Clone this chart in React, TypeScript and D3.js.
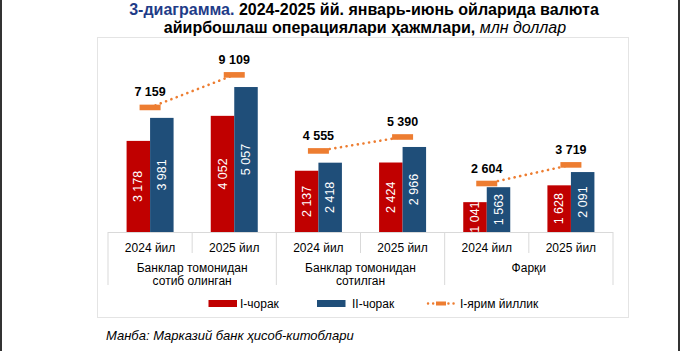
import React from 'react';
import * as d3 from 'd3';

const groups = [['Банклар томонидан', 'сотиб олинган'], ['Банклар томонидан', 'сотилган'], ['Фарқи']];
const years = ['2024 йил', '2025 йил'];
const q1 = [3178, 4052, 2137, 2424, 1041, 1628];
const q2 = [3981, 5057, 2418, 2966, 1563, 2091];
const half = [7159, 9109, 4555, 5390, 2604, 3719];
const legendLabels = ['I-чорак', 'II-чорак', 'I-ярим йиллик'];

const RED = '#C00000';
const BLUE = '#1F4E79';
const ORANGE = '#ED7D31';
const GRID = '#D9D9D9';
const FONT = '"Liberation Sans", Arial, sans-serif';

const fmt = (v: number) => d3.format(',')(v).replace(/,/g, ' ');

export default function App() {
  const W = 680, H = 351;
  const base = 232;
  const cats = d3.range(q1.length);
  const x = d3.scaleBand<number>().domain(cats).range([108, 613]).padding(0);
  const y = d3.scaleLinear().domain([0, 6000]).range([base, 60]);
  const y2 = d3.scaleLinear().domain([-300, 10000]).range([base, 60]);
  const bw = 23.5;
  const cx = (i: number) => x(i)! + x.bandwidth() / 2;
  const groupW = x.bandwidth() * 2;
  const pairs = d3.range(groups.length).map(g => [g * 2, g * 2 + 1]);
  const link = d3.line<number>().x(i => cx(i)).y(i => y2(half[i]));

  return (
    <div style={{ position: 'absolute', left: 0, top: 0 }}>
      <svg width={W} height={H} style={{ display: 'block', fontFamily: FONT }}>
        <rect x={0} y={0} width={W} height={H} fill="#fff" />
        <rect x={0} y={0} width={2} height={H} fill="#333" />
        <rect x={678} y={0} width={2} height={H} fill="#333" />

        <rect x={97.5} y={37.5} width={531} height={280} fill="#fff" stroke="#E4E4E4" />

        <text x={364} y={14.5} fontSize={16} fontWeight="bold" textAnchor="middle" xmlSpace="preserve">
          <tspan fill="#1F3C88">3-диаграмма.</tspan>
          <tspan fill="#000"> 2024-2025 йй. январь-июнь ойларида валюта</tspan>
        </text>
        <text x={365} y={33} fontSize={16} textAnchor="middle" xmlSpace="preserve">
          <tspan fontWeight="bold">айирбошлаш операциялари ҳажмлари,</tspan>
          <tspan fontStyle="italic"> млн доллар</tspan>
        </text>

        <defs>
          <clipPath id="plot">
            <rect x={97} y={40} width={532} height={base - 40} />
          </clipPath>
        </defs>

        {cats.map(i => (
          <g key={'b' + i}>
            <rect x={cx(i) - bw} y={y(q1[i])} width={bw} height={base - y(q1[i])} fill={RED} />
            <rect x={cx(i)} y={y(q2[i])} width={bw} height={base - y(q2[i])} fill={BLUE} />
          </g>
        ))}
        <g clipPath="url(#plot)">
          {cats.map(i => {
            const a = (y(q1[i]) + base) / 2;
            const b = (y(q2[i]) + base) / 2;
            return (
              <g key={'l' + i} fill="#fff" fontSize={12.5} textAnchor="middle" dominantBaseline="central">
                <text transform={`translate(${cx(i) - bw / 2},${a}) rotate(-90)`}>{fmt(q1[i])}</text>
                <text transform={`translate(${cx(i) + bw / 2},${b}) rotate(-90)`}>{fmt(q2[i])}</text>
              </g>
            );
          })}
        </g>

        {pairs.map((p, g) => (
          <path
            key={'d' + g}
            d={link(p) ?? ''}
            fill="none"
            stroke={ORANGE}
            strokeWidth={2.6}
            strokeLinecap="round"
            strokeDasharray="0.1 5.6"
          />
        ))}
        {cats.map(i => (
          <g key={'m' + i}>
            <rect x={cx(i) - 10.5} y={y2(half[i]) - 2.8} width={21} height={5.6} fill={ORANGE} />
            <text x={cx(i)} y={y2(half[i]) - 11} textAnchor="middle" fontSize={12.5} fontWeight="bold" fill="#000">
              {fmt(half[i])}
            </text>
          </g>
        ))}

        <line x1={108} x2={613} y1={base + 0.5} y2={base + 0.5} stroke={GRID} />
        {d3.range(q1.length + 1).map(k => {
          const xx = 108 + k * x.bandwidth();
          const tall = k % 2 === 0;
          return <line key={'v' + k} x1={xx} x2={xx} y1={base} y2={tall ? 285 : 253} stroke={GRID} />;
        })}
        {cats.map(i => (
          <text key={'y' + i} x={cx(i)} y={251.5} textAnchor="middle" fontSize={12} fill="#000">
            {years[i % 2]}
          </text>
        ))}
        {groups.map((lines, g) => (
          <text key={'g' + g} x={108 + g * groupW + groupW / 2} textAnchor="middle" fontSize={12} fill="#000">
            {lines.map((t, k) => (
              <tspan key={k} x={108 + g * groupW + groupW / 2} y={271.5 + k * 13}>{t}</tspan>
            ))}
          </text>
        ))}

        <g fontSize={12} fill="#000">
          <rect x={208.5} y={300} width={28.5} height={7} fill={RED} />
          <text x={240} y={307.5}>{legendLabels[0]}</text>
          <rect x={317} y={300} width={28.5} height={7} fill={BLUE} />
          <text x={352} y={307.5}>{legendLabels[1]}</text>
          <line x1={428} x2={455} y1={303.5} y2={303.5} stroke={ORANGE} strokeWidth={2.4} strokeLinecap="round" strokeDasharray="0.1 5" />
          <rect x={436} y={301.5} width={10} height={4} fill={ORANGE} />
          <text x={460} y={307.5}>{legendLabels[2]}</text>
        </g>

        <text x={106} y={340} fontSize={13} fontStyle="italic" fill="#000">
          Манба: Марказий банк ҳисоб-китоблари
        </text>
      </svg>
    </div>
  );
}
